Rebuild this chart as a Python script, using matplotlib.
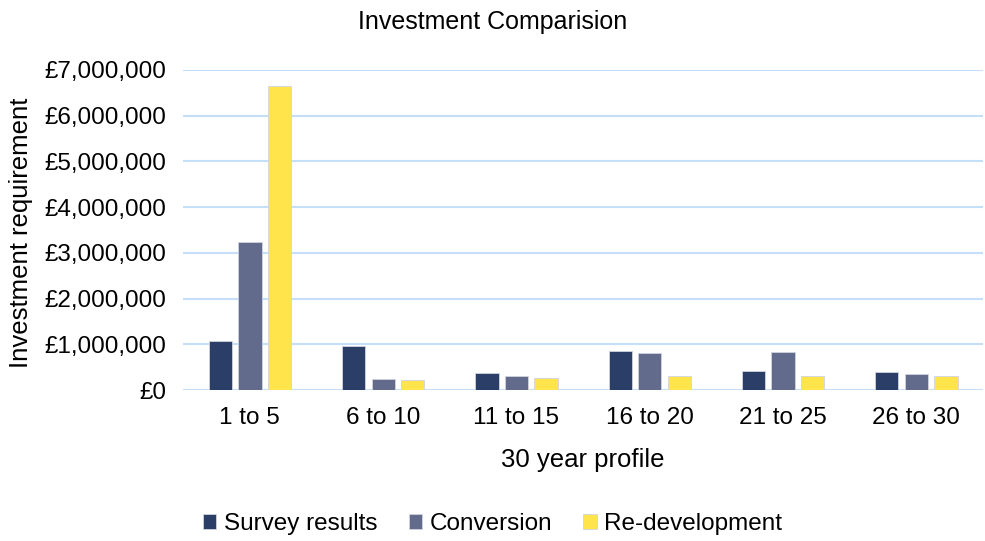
import numpy as np
import matplotlib
matplotlib.use("Agg")
import matplotlib.pyplot as plt
from matplotlib.ticker import FuncFormatter

plt.rcParams['font.family'] = ['Liberation Sans', 'DejaVu Sans']

categories = ["1 to 5", "6 to 10", "11 to 15", "16 to 20", "21 to 25", "26 to 30"]
survey = [1080000, 970000, 370000, 850000, 410000, 390000]
conversion = [3230000, 240000, 310000, 810000, 840000, 350000]
redevelopment = [6650000, 210000, 270000, 300000, 300000, 300000]

series = [("Survey results", survey, "#2B3E67"),
          ("Conversion", conversion, "#636B8D"),
          ("Re-development", redevelopment, "#FFE54B")]

fig = plt.figure(figsize=(9.85, 5.41), dpi=100)
ax = fig.add_axes([0.186, 0.279, 0.812, 0.592])

x = np.arange(len(categories))
w = 0.175
step = 0.222
for i, (name, vals, col) in enumerate(series):
    ax.bar(x + (i - 1) * step, vals, w, color=col, label=name,
           edgecolor="#D0D4E0", linewidth=0.6, zorder=3)

ax.set_xlim(-0.5, len(categories) - 0.5)
ax.set_ylim(0, 7000000)
ax.set_yticks(np.arange(0, 7000001, 1000000))
ax.yaxis.set_major_formatter(FuncFormatter(lambda v, p: "£{:,.0f}".format(v)))
ax.set_xticks(x)
ax.set_xticklabels(categories)
ax.grid(axis="y", color="#C5DFF8", linewidth=1.5, zorder=0)
for s in ax.spines.values():
    s.set_visible(False)
ax.tick_params(axis="both", length=0, labelsize=17.5, colors="#000000")
ax.tick_params(axis="y", pad=12)
ax.tick_params(axis="x", pad=12)

fig.text(0.5, 0.96, "Investment Comparision", fontsize=18, ha="center", va="center")
fig.text(0.592, 0.15, "30 year profile", fontsize=18.5, ha="center", va="center")
fig.text(0.021, 0.57, "Investment requirement", fontsize=18.5, ha="center",
         va="center", rotation=90)

fig.legend(loc="center", bbox_to_anchor=(0.5, 0.031), ncol=3,
           frameon=False, fontsize=17.5, handlelength=0.55, handleheight=0.55,
           handletextpad=0.3, columnspacing=1.3, borderaxespad=0)

fig.savefig("out.png", dpi=100)
